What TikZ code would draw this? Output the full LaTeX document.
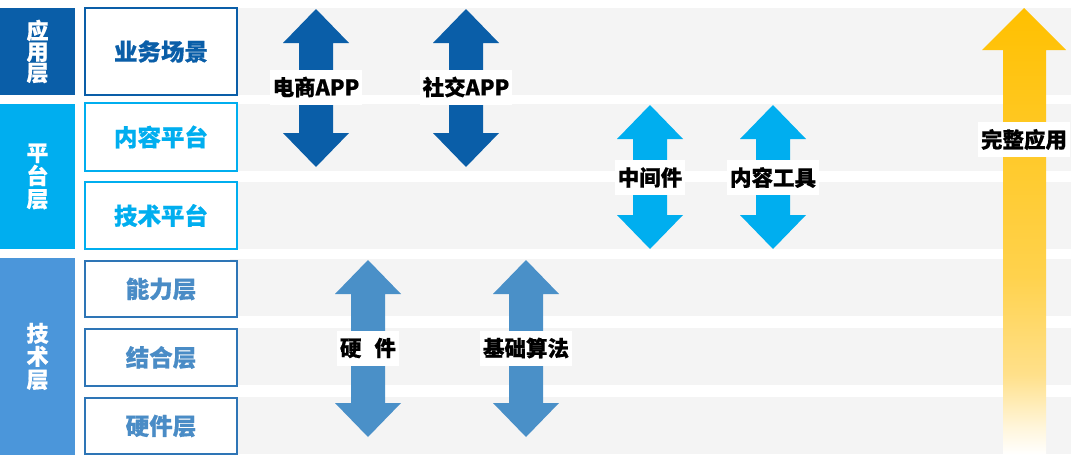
\documentclass[tikz,border=0pt]{standalone}
\usepackage{fontspec}
\setmainfont{Noto Sans CJK SC}[BoldFeatures={FakeBold=0.6}]
\definecolor{appblue}{HTML}{0A5EA8}
\definecolor{platblue}{HTML}{00AEEF}
\definecolor{techbar}{HTML}{4B96DA}
\definecolor{techtext}{HTML}{4A8CC6}
\definecolor{techborder}{HTML}{2E75B6}
\definecolor{techarrow}{HTML}{4A90C8}
\definecolor{bandgray}{HTML}{F4F4F4}
\definecolor{ytop}{HTML}{FFC000}
\definecolor{ymid}{HTML}{FFD24D}
\definecolor{ylight}{HTML}{FFE08A}
\definecolor{ypale}{HTML}{FFF6DC}
\pgfdeclareverticalshading{yfade}{100bp}{color(0bp)=(white); color(25bp)=(white); color(28bp)=(ypale); color(34bp)=(ylight); color(45bp)=(ymid); color(75bp)=(ytop); color(100bp)=(ytop)}
\newcommand\mydarrow[4]{% color, cx, top, bottom
  \fill[#1] (#2,#3) -- (#2+33,#3+34) -- (#2+17,#3+34) -- (#2+17,#4-34) -- (#2+33,#4-34) -- (#2,#4)
    -- (#2-33,#4-34) -- (#2-17,#4-34) -- (#2-17,#3+34) -- (#2-33,#3+34) -- cycle;}
\tikzset{
  band/.style={fill=bandgray},
  sidebar/.style={rectangle, inner sep=0pt, minimum width=75pt, text=white, align=center,
    font=\bfseries\fontsize{22}{23}\selectfont},
  rowbox/.style={rectangle, fill=white, line width=1.3pt, minimum width=152pt, inner sep=0pt,
    font=\bfseries\fontsize{23.5}{23.5}\selectfont},
  lbl/.style={rectangle, fill=white, inner xsep=3pt, inner ysep=0pt, minimum height=35pt,
    text=black, font=\bfseries\fontsize{21.5}{21.5}\selectfont}
}
\begin{document}
\begin{tikzpicture}[x=1pt,y=-1pt]
\useasboundingbox (0,0) rectangle (1080,455);
% gray bands
\fill[band] (230,8) rectangle (1071,95);
\fill[band] (230,104) rectangle (1071,171);
\fill[band] (230,182) rectangle (1071,249);
\fill[band] (230,259) rectangle (1071,316);
\fill[band] (230,328) rectangle (1071,385);
\fill[band] (230,397) rectangle (1071,454);
% side bars
\node[sidebar, fill=appblue, minimum height=87pt, font=\bfseries\fontsize{22}{21}\selectfont] (yy) at (37.5,51.5) {应\\用\\层};
\node[sidebar, fill=platblue, minimum height=145pt] (pt) at (37.5,176.5) {平\\台\\层};
\node[sidebar, fill=techbar, minimum height=197pt] (js) at (37.5,356.5) {技\\术\\层};
% row boxes
\node[rowbox, draw=appblue, text=appblue, minimum height=87pt] (r1) at (161,51.5) {业务场景};
\node[rowbox, draw=platblue, text=platblue, minimum height=68pt] (r2) at (161,137) {内容平台};
\node[rowbox, draw=platblue, text=platblue, minimum height=67pt] (r3) at (161,215.5) {技术平台};
\node[rowbox, draw=techborder, text=techtext, minimum height=56pt] (r4) at (161,289) {能力层};
\node[rowbox, draw=techborder, text=techtext, minimum height=57pt] (r5) at (161,357.5) {结合层};
\node[rowbox, draw=techborder, text=techtext, minimum height=56pt] (r6) at (161,426) {硬件层};
% arrows
\mydarrow{appblue}{316}{9}{167}
\mydarrow{appblue}{466}{9}{167}
\mydarrow{platblue}{650}{105}{249}
\mydarrow{platblue}{773}{105}{249}
\mydarrow{techarrow}{368}{260}{437}
\mydarrow{techarrow}{526}{260}{437}
\shade[shading=yfade] (1024,8) -- (1066,50) -- (1046,50) -- (1046,455) -- (1003,455) -- (1003,50) -- (982,50) -- cycle;
% labels
\node[lbl] (l1) at (316,87) {电商APP};
\node[lbl] (l2) at (466,87) {社交APP};
\node[lbl] (l3) at (650,177.5) {中间件};
\node[lbl] (l4) at (773,177.5) {内容工具};
\node[lbl] (l5) at (368,348) {硬\hspace{13pt}件};
\node[lbl] (l6) at (526,348) {基础算法};
\node[lbl] (l7) at (1024,139.5) {完整应用};
\end{tikzpicture}
\end{document}
